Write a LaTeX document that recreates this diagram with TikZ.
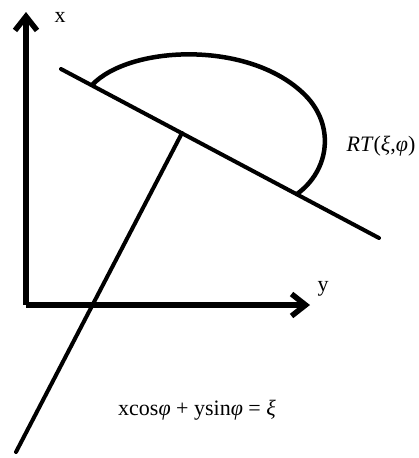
\documentclass[tikz,border=0pt]{standalone}
\usepackage{fontspec}
\setmainfont{Liberation Serif}
\usetikzlibrary{arrows.meta}

\begin{document}
\begin{tikzpicture}[
  x=1pt, y=-1pt,
  axis/.style={line width=5.5pt, -{Straight Barb[length=14pt, width=22pt]}},
  thickline/.style={line width=4pt, line cap=round},
  label/.style={font=\fontsize{22}{26}\selectfont, inner sep=0pt}
]
\useasboundingbox (0,0) rectangle (419,458);

% axes
\coordinate (origin) at (26,305);
\coordinate (xtip)   at (26,12);
\coordinate (ytip)   at (310,305);
\draw[axis] (origin) -- (xtip);
\draw[axis] (origin) -- (ytip);
\node[label] (xlab) at (60,17) {x};
\node[label] (ylab) at (323,289) {y};

% line and its normal
\coordinate (lstart) at (61,69);
\coordinate (lend)   at (379,238);
\coordinate (foot)   at (182,133);
\coordinate (nend)   at (16,452);
\draw[thickline] (lstart) -- (lend);
\draw[thickline] (foot) -- (nend);

% integration arc
\coordinate (arcA) at (92,85);
\coordinate (arcM) at (305,95);
\coordinate (arcB) at (297,194);
\draw[line width=4.5pt] (arcA) .. controls (130,45) and (250,40) .. (arcM)
  .. controls (335,125) and (330,170) .. (arcB);

\node[label] (rt) at (381,146) {\textit{RT}(\textit{ξ},\textit{φ})};
\node[label] (eq) at (197,410) {xcos\textit{φ} + ysin\textit{φ} = \textit{ξ}};
\end{tikzpicture}
\end{document}
